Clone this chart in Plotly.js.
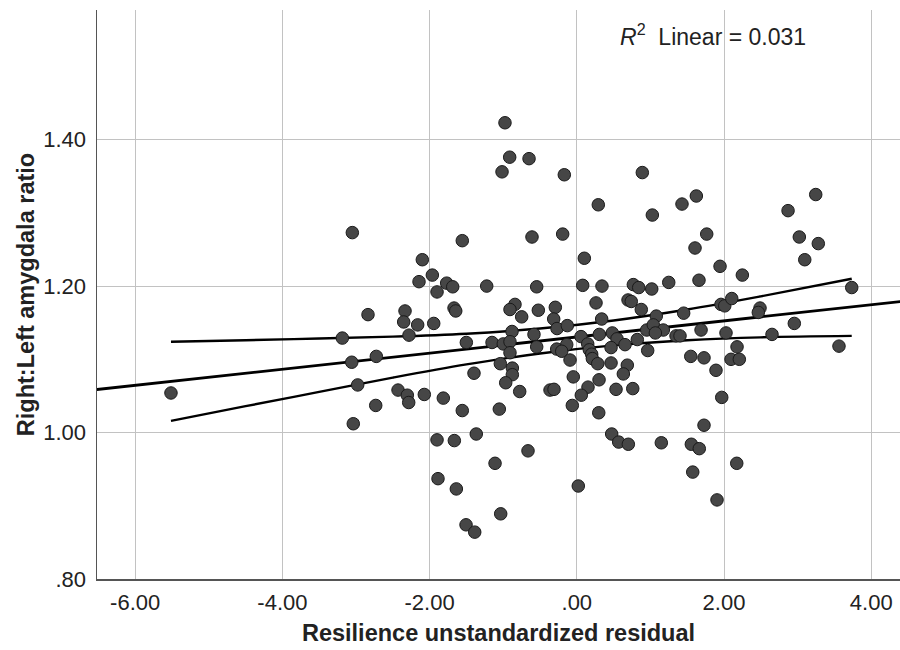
<!DOCTYPE html>
<html>
<head>
<meta charset="utf-8">
<script src="https://cdn.plot.ly/plotly-3.0.1.min.js"></script>
<style>html,body{margin:0;padding:0;background:#fff;}#chart{width:900px;height:650px;}</style>
</head>
<body>
<div id="chart"></div>
<script>
// Resilience unstandardized residual (x) vs Right:Left amygdala ratio (y)
const residual = [
-0.976,-0.912,-0.649,-1.016,-0.170,0.890,0.292,1.026,1.429,-1.556,
-0.609,-0.192,-2.099,0.102,-2.144,-1.963,-1.899,-1.768,-1.686,-1.224,
-0.545,0.080,0.342,0.768,0.841,1.018,1.249,-1.668,-1.645,-2.334,
-2.352,-2.162,-1.944,-2.280,-0.840,-0.908,-0.523,-0.292,-0.749,-0.314,
0.261,0.696,0.740,0.876,0.338,-0.269,-0.129,-0.880,-0.582,0.057,
0.306,0.482,0.546,0.822,0.950,1.080,1.039,1.175,1.067,1.348,
-1.501,-1.152,-0.999,-0.908,0.655,0.465,-0.545,-0.908,-0.137,-0.273,
-0.205,0.148,0.170,0.202,0.211,0.284,0.465,0.686,0.632,0.963,
-0.092,-1.039,-0.876,-0.876,-0.966,-0.776,-1.397,-0.048,0.302,0.152,
0.061,0.533,0.760,-0.364,-0.310,-0.061,0.298,-2.429,-2.303,-2.284,
-2.072,-1.814,-1.556,-1.053,-2.732,-1.899,-1.664,-1.366,-0.663,-1.111,
-1.886,-1.637,0.020,-1.034,-1.505,-1.387,0.474,0.569,0.700,1.148,
-2.837,-3.186,-3.058,-2.724,-5.514,-2.977,-3.037,-3.050,1.624,1.765,
1.606,1.946,2.249,2.870,3.246,3.023,3.281,3.097,3.735,1.660,
1.452,1.959,2.010,2.105,2.489,2.466,2.955,1.688,1.402,2.027,
2.652,3.562,2.177,1.548,1.728,2.095,2.208,1.891,1.969,1.728,
1.556,1.664,2.173,1.575,1.905
];
const ratio = [
1.423,1.376,1.374,1.356,1.352,1.355,1.311,1.297,1.312,1.262,
1.267,1.271,1.236,1.238,1.206,1.215,1.192,1.204,1.199,1.200,
1.199,1.201,1.200,1.202,1.198,1.196,1.205,1.170,1.166,1.166,
1.151,1.147,1.149,1.133,1.175,1.168,1.167,1.171,1.158,1.155,
1.177,1.181,1.179,1.168,1.155,1.142,1.146,1.138,1.134,1.131,
1.134,1.136,1.128,1.127,1.140,1.159,1.147,1.140,1.136,1.132,
1.123,1.123,1.121,1.124,1.120,1.116,1.117,1.109,1.120,1.114,
1.111,1.121,1.113,1.107,1.101,1.094,1.095,1.092,1.080,1.112,
1.099,1.094,1.088,1.079,1.068,1.056,1.081,1.076,1.072,1.062,
1.051,1.059,1.060,1.058,1.059,1.037,1.027,1.058,1.051,1.041,
1.052,1.047,1.030,1.032,1.037,0.990,0.989,0.998,0.975,0.958,
0.937,0.923,0.927,0.889,0.874,0.864,0.998,0.987,0.984,0.986,
1.161,1.129,1.096,1.104,1.054,1.065,1.012,1.273,1.323,1.271,
1.252,1.227,1.215,1.303,1.325,1.267,1.258,1.236,1.198,1.208,
1.163,1.175,1.173,1.183,1.170,1.164,1.149,1.140,1.132,1.136,
1.134,1.118,1.117,1.104,1.102,1.100,1.100,1.085,1.048,1.010,
0.984,0.978,0.958,0.946,0.908
];

// Linear fit line
const fitX = [-7.0, 5.0];
const fitY = [1.0535, 1.1855];

// 95% confidence band for the mean
const ciX     = [-5.514, -4.5, -3.5, -2.5, -1.5, -0.5, 0.5, 1.5, 2.5, 3.735];
const ciUpper = [1.124, 1.126, 1.1285, 1.131, 1.135, 1.142, 1.153, 1.168, 1.186, 1.210];
const ciLower = [1.016, 1.036, 1.0555, 1.075, 1.093, 1.108, 1.119, 1.126, 1.130, 1.132];

// Axis ticks
const xTickVals = [-6, -4, -2, 0, 2, 4];
const xTickText = ["-6.00", "-4.00", "-2.00", ".00", "2.00", "4.00"];
const yTickVals = [0.8, 1.0, 1.2, 1.4];
const yTickText = [".80", "1.00", "1.20", "1.40"];

const FONT = "Liberation Sans, Arial, Helvetica, sans-serif";

const traces = [
  {
    x: fitX, y: fitY, type: 'scatter', mode: 'lines',
    line: {color: '#000', width: 2.8}, hoverinfo: 'skip', showlegend: false
  },
  {
    x: ciX, y: ciUpper, type: 'scatter', mode: 'lines',
    line: {color: '#000', width: 2.4, shape: 'spline'}, hoverinfo: 'skip', showlegend: false
  },
  {
    x: ciX, y: ciLower, type: 'scatter', mode: 'lines',
    line: {color: '#000', width: 2.4, shape: 'spline'}, hoverinfo: 'skip', showlegend: false
  },
  {
    x: residual, y: ratio, type: 'scatter', mode: 'markers',
    marker: {size: 12.5, color: '#464646', line: {color: '#1a1a1a', width: 1}},
    showlegend: false
  }
];

const layout = {
  width: 900, height: 650,
  margin: {l: 97, r: 0, t: 10, b: 71},
  paper_bgcolor: '#fff', plot_bgcolor: '#fff',
  font: {family: FONT, size: 22, color: '#222'},
  showlegend: false,
  xaxis: {
    range: [-6.519, 4.391],
    tickvals: xTickVals, ticktext: xTickText,
    showgrid: true, gridcolor: '#c2c2c2', gridwidth: 1,
    zeroline: false,
    showline: true, linecolor: '#555', linewidth: 1.5,
    ticks: '', ticklabelstandoff: 3,
    tickfont: {family: FONT, size: 22, color: '#222'},
    title: {text: 'Resilience unstandardized residual', font: {family: FONT, size: 23.5, color: '#222', weight: 'bold'}, standoff: 10}
  },
  yaxis: {
    range: [0.80, 1.577],
    tickvals: yTickVals, ticktext: yTickText,
    showgrid: true, gridcolor: '#c2c2c2', gridwidth: 1,
    zeroline: false,
    showline: true, linecolor: '#555', linewidth: 1.5,
    ticks: '', ticklabelstandoff: 5,
    tickfont: {family: FONT, size: 22, color: '#222'},
    title: {text: 'Right:Left amygdala ratio', font: {family: FONT, size: 23.5, color: '#222', weight: 'bold'}, standoff: 2}
  },
  annotations: [
    {
      xref: 'paper', yref: 'paper', x: 0.649, y: 0.956,
      xanchor: 'left', yanchor: 'middle', showarrow: false,
      text: '<i>R</i><sup>2</sup>  Linear = 0.031',
      font: {family: FONT, size: 23, color: '#222'}
    }
  ]
};

Plotly.newPlot('chart', traces, layout, {displayModeBar: false, staticPlot: true});
</script>
</body>
</html>
